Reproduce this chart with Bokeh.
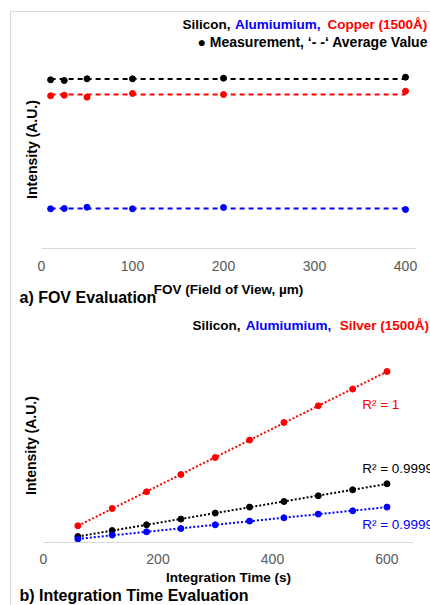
import numpy as np
from bokeh.plotting import figure
from bokeh.models import Label, FixedTicker, Range1d
from bokeh.layouts import column
from bokeh.embed import file_html
from bokeh.resources import INLINE

FONT = "Liberation Sans"
BLACK, BLUE, RED = "#000000", "#0000ff", "#ff0000"

# ---- a) FOV evaluation ----
fov = [10, 25, 50, 100, 200, 400]
fov_ticks = [0, 100, 200, 300, 400]
fov_silicon = [168.7, 168.0, 169.7, 169.7, 170.3, 171.3]
fov_copper = [152.7, 153.3, 151.3, 155.0, 154.0, 157.3]
fov_aluminium = [39.7, 40.0, 41.3, 39.7, 41.0, 39.0]

# ---- b) Integration time evaluation ----
itime = [60, 120, 180, 240, 300, 360, 420, 480, 540, 600]
it_ticks = [0, 200, 400, 600]
it_silver = [16.7, 34.0, 50.7, 68.0, 85.0, 102.4, 120.0, 136.7, 153.4, 171.0]
it_silicon = [6.0, 12.0, 17.7, 23.4, 29.4, 35.4, 41.0, 46.7, 52.7, 58.7]
it_aluminium = [3.4, 7.4, 10.7, 14.0, 17.7, 21.4, 24.7, 28.4, 31.7, 35.4]
r2_texts = ["R\u00b2 = 1", "R\u00b2 = 0.9999", "R\u00b2 = 0.9999"]


def make_fig(h, xr, yr, ticks, bounds, xlabel, tick_standoff, label_standoff):
    p = figure(width=419, height=h, x_range=Range1d(*xr), y_range=Range1d(*yr),
               output_backend="svg", toolbar_location=None,
               x_axis_location="below", y_axis_location=None,
               min_border=0, min_border_left=0, min_border_right=0,
               min_border_top=0, min_border_bottom=0)
    p.xgrid.visible = False
    p.ygrid.visible = False
    p.outline_line_color = None
    ax = p.xaxis[0]
    ax.fixed_location = 0
    ax.bounds = bounds
    ax.ticker = FixedTicker(ticks=ticks)
    ax.axis_line_color = "#d9d9d9"
    ax.axis_line_width = 1
    ax.major_tick_line_color = None
    ax.minor_tick_line_color = None
    ax.major_label_text_font = FONT
    ax.major_label_text_font_size = "14px"
    ax.major_label_text_color = "#595959"
    ax.major_label_standoff = tick_standoff
    ax.axis_label = xlabel
    ax.axis_label_text_font = FONT
    ax.axis_label_text_font_style = "bold"
    ax.axis_label_text_font_size = "13.5px"
    ax.axis_label_text_color = "#000000"
    ax.axis_label_standoff = label_standoff
    return p


def lab(p, x, y, text, color, align="left", bold=True, size="14px", angle=0.0):
    p.add_layout(Label(x=x, y=y, text=text, text_color=color, text_align=align,
                       text_baseline="middle", text_font=FONT,
                       text_font_style="bold" if bold else "normal",
                       text_font_size=size, angle=angle))


# ---------------- top figure ----------------
p1 = make_fig(296, (-32.97, 427.47), (-60, 236), fov_ticks, (0, 411),
              "FOV (Field of View, \u00b5m)", 6, 8)

for vals, col in [(fov_silicon, BLACK), (fov_copper, RED), (fov_aluminium, BLUE)]:
    avg = float(np.mean(vals))
    p1.line([fov[0], fov[-1]], [avg, avg], line_color=col, line_width=2, line_dash="5 4")
    p1.scatter(fov, vals, size=6, color=col)

lab(p1, 207.7, 224, "Silicon,", BLACK, align="right", size="13.5px")
lab(p1, 306.6, 224, "Alumiumium,", BLUE, align="right", size="13.5px")
lab(p1, 423.8, 224, "Copper (1500\u00c5)", RED, align="right", size="13.5px")
lab(p1, 171.4, 207, "\u25cf Measurement, \u2018- -\u2018 Average Value", BLACK)
lab(p1, -24.2, -49, "a) FOV Evaluation", BLACK, size="16px")
lab(p1, -10.1, 99, "Intensity (A.U.)", BLACK, align="center", angle=np.pi / 2)

# ---------------- bottom figure ----------------
p2 = make_fig(297, (-55.9, 676.0), (-63, 234), it_ticks, (0, 646),
              "Integration Time (s)", 5, 3)

tx = np.array(itime, dtype=float)
for vals, col in [(it_silver, RED), (it_silicon, BLACK), (it_aluminium, BLUE)]:
    m, b = np.polyfit(tx, np.array(vals), 1)
    xs = [tx[0], tx[-1]]
    p2.line(xs, [m * xs[0] + b, m * xs[1] + b], line_color=col, line_width=2, line_dash="2 2")
    p2.scatter(itime, vals, size=6, color=col)

lab(p2, 556.7, 138, r2_texts[0], RED, bold=False, size="13.5px")
lab(p2, 556.7, 74, r2_texts[1], BLACK, bold=False, size="13.5px")
lab(p2, 556.7, 18, r2_texts[2], BLUE, bold=False, size="13.5px")

lab(p2, 344.1, 217, "Silicon,", BLACK, align="right", size="13.5px")
lab(p2, 502.5, 217, "Alumiumium,", BLUE, align="right", size="13.5px")
lab(p2, 673.5, 217, "Silver (1500\u00c5)", RED, align="right", size="13.5px")
lab(p2, -41.9, -53, "b) Integration Time Evaluation", BLACK, size="16px")
lab(p2, -22.7, 97, "Intensity (A.U.)", BLACK, align="center", angle=np.pi / 2)

layout = column(p1, p2, spacing=0,
                styles={"border-left": "1px solid #d9d9d9", "border-top": "1px solid #d9d9d9",
                        "position": "absolute", "left": "10px", "top": "11px"})

open("out.html", "w").write(file_html(layout, INLINE))
